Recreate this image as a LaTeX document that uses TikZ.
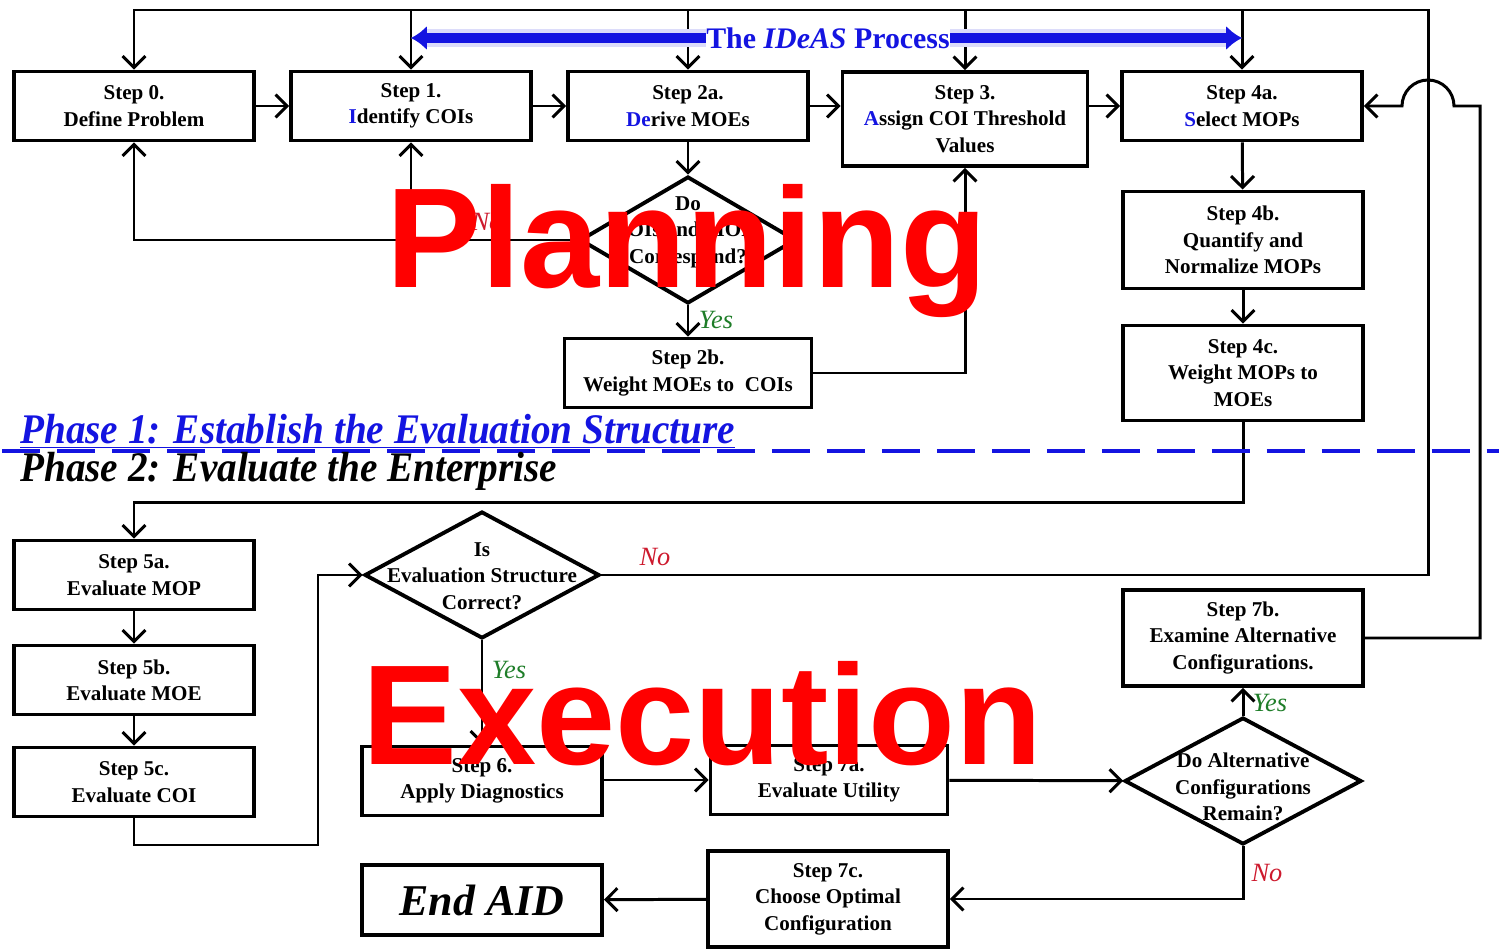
\documentclass[tikz,border=0pt]{standalone}
\usepackage{fontspec}
\setmainfont{Liberation Serif}
\newfontfamily\bigsans{Liberation Sans}
\usetikzlibrary{shapes.geometric,arrows.meta}
\definecolor{ideasblue}{RGB}{20,20,225}
\definecolor{nored}{RGB}{205,25,45}
\definecolor{yesgreen}{RGB}{30,125,40}

\begin{document}
\begin{tikzpicture}[x=0.02cm,y=-0.02cm]
\tikzset{
  stepbox/.style={draw, line width=2.2pt, fill=white, minimum width=4.8cm, minimum height=1.38cm,
    align=center, inner sep=0pt, font=\bfseries\fontsize{12}{15}\selectfont},
  decide/.style={draw, diamond, line width=2.2pt, inner sep=0pt},
  decidetext/.style={align=center, inner sep=0pt, font=\bfseries\fontsize{12}{15}\selectfont},
  wire/.style={line width=1.7pt},
  conn/.style={wire, -{Straight Barb[length=6.5pt,width=13pt]}},
  yeslab/.style={inner sep=0pt, text=yesgreen, font=\itshape\fontsize{15}{15}\selectfont},
  nolab/.style={inner sep=0pt, text=nored, font=\itshape\fontsize{15}{15}\selectfont},
  bluebar/.style={draw=ideasblue, line width=5.5pt, -{Latex[length=9pt,width=14pt]},
    preaction={draw=ideasblue!15, line width=10pt}},
  phase/.style={inner sep=0pt, anchor=base west, font=\bfseries\itshape\fontsize{24}{24}\selectfont\addfontfeature{FakeStretch=0.93}},
  bigword/.style={inner sep=0pt, anchor=base west, text=red, font=\bigsans\bfseries\fontsize{81}{81}\selectfont},
}
\useasboundingbox (0,0) rectangle (1499,949);

\node [stepbox] (s0) at (134,106) {Step 0.\\Define Problem};
\node [stepbox] (s1) at (411,106) {Step 1.\\\textcolor{ideasblue}{I}dentify COIs};
\node [stepbox] (s2a) at (688,106) {Step 2a.\\\textcolor{ideasblue}{De}rive MOEs};
\node [stepbox, minimum width=4.9cm, minimum height=1.88cm] (s3) at (965,119) {Step 3.\\\textcolor{ideasblue}{A}ssign COI Threshold\\Values};
\node [stepbox] (s4a) at (1242,106) {Step 4a.\\\textcolor{ideasblue}{S}elect MOPs};
\node [stepbox, minimum height=1.94cm] (s4b) at (1243,240) {Step 4b.\\Quantify and\\Normalize MOPs};
\node [stepbox, minimum height=1.9cm] (s4c) at (1243,373) {Step 4c.\\Weight MOPs to\\MOEs};
\node [decide, minimum width=4.32cm, minimum height=2.54cm] (d1) at (688,240) {};
\node [decidetext] (d1t) at (688,232) {Do\\COIs and MOEs\\Correspond?};
\node [stepbox, minimum width=4.94cm] (s2b) at (688,373) {Step 2b.\\Weight MOEs to\ \ COIs};

\node [stepbox] (s5a) at (134,575) {Step 5a.\\Evaluate MOP};
\node [stepbox] (s5b) at (134,680) {Step 5b.\\Evaluate MOE};
\node [stepbox] (s5c) at (134,782) {Step 5c.\\Evaluate COI};
\node [decide, minimum width=4.7cm, minimum height=2.54cm] (d2) at (482,575) {};
\node [decidetext] (d2t) at (482,576) {Is\\Evaluation Structure\\Correct?};
\node [stepbox] (s6) at (482,781) {Step 6.\\Apply Diagnostics};
\node [stepbox, minimum width=4.74cm] (s7a) at (829,780) {Step 7a.\\Evaluate Utility};
\node [decide, minimum width=4.74cm, minimum height=2.54cm] (d3) at (1243,781) {};
\node [decidetext] (d3t) at (1243,787) {Do Alternative\\Configurations\\Remain?};
\node [stepbox, minimum height=1.92cm] (s7b) at (1243,638) {Step 7b.\\Examine Alternative\\Configurations.};
\node [stepbox, minimum height=1.92cm] (s7c) at (828,899) {Step 7c.\\Choose Optimal\\Configuration};
\node [stepbox, minimum height=1.4cm, font=\bfseries\itshape\fontsize{25}{25}\selectfont] (end) at (482,900) {End AID};

\node [inner sep=0pt, text=ideasblue, font=\bfseries\fontsize{17}{17}\selectfont] (title) at (828,38) {The \textit{IDeAS} Process};
\coordinate (topr) at (1428,10);

\draw [conn] (s0) -- (s1);
\draw [conn] (s1) -- (s2a);
\draw [conn] (s2a) -- (s3.west |- s2a);
\draw [conn] (s3.east |- s4a) -- (s4a);
\draw [conn] (s2a) -- (d1);
\draw [conn] (d1.west) -| (s0.south);
\draw [conn] (s1.south |- d1.west) -- (s1.south);
\draw [conn] (d1) -- (s2b);
\draw [conn] (s2b.east) -| (s3.south);
\draw [conn] (s4a) -- (s4b);
\draw [conn] (s4b) -- (s4c);
\draw [conn] (s4c.south) -- ++(0,80) -| (s5a.north);
\draw [conn] (s5a) -- (s5b);
\draw [conn] (s5b) -- (s5c);
\draw [conn] (s5c.south) |- (318,845) |- (d2.west);
\draw [conn] (d2.east) -| (topr) -| (s0.north);
\draw [conn] (s1.north |- topr) -- (s1.north);
\draw [conn] (s2a.north |- topr) -- (s2a.north);
\draw [conn] (s3.north |- topr) -- (s3.north);
\draw [conn] (s4a.north |- topr) -- (s4a.north);
\draw [conn] (d2) -- (s6);
\draw [conn] (s6.east |- s7a) -- (s7a);
\draw [conn] (s7a) -- (d3);
\draw [conn] (d3) -- (s7b);
\draw [conn] (s7b.east) -| (1480,106) -- (1454,106) arc [start angle=0, end angle=180, radius=0.52cm] -- (s4a.east);
\draw [conn] (d3.south) |- (s7c.east);
\draw [conn] (s7c) -- (end);

\draw [bluebar] (title.west) -- (title.west -| s1.north);
\draw [bluebar] (title.east) -- (title.east -| s4a.north);

\node [nolab] (no1) at (487,222) {No};
\node [yeslab] (yes1) at (716,320) {Yes};
\node [nolab] (no2) at (655,557) {No};
\node [yeslab] (yes2) at (509,670) {Yes};
\node [yeslab] (yes3) at (1270,703) {Yes};
\node [nolab] (no3) at (1267,873) {No};

\draw [draw=ideasblue, line width=2.8pt, dash pattern=on 0.76cm off 0.34cm] (2,451) -- (1499,451);
\node [phase, text=ideasblue] (ph1) at (20,444) {\underline{Phase 1: Establish the Evaluation Structure}};
\node [phase] (ph2) at (20,482) {Phase 2: Evaluate the Enterprise};

\node [bigword] (plan) at (386,288) {Planning};
\node [bigword] (exec) at (362,765) {Execution};
\end{tikzpicture}
\end{document}
